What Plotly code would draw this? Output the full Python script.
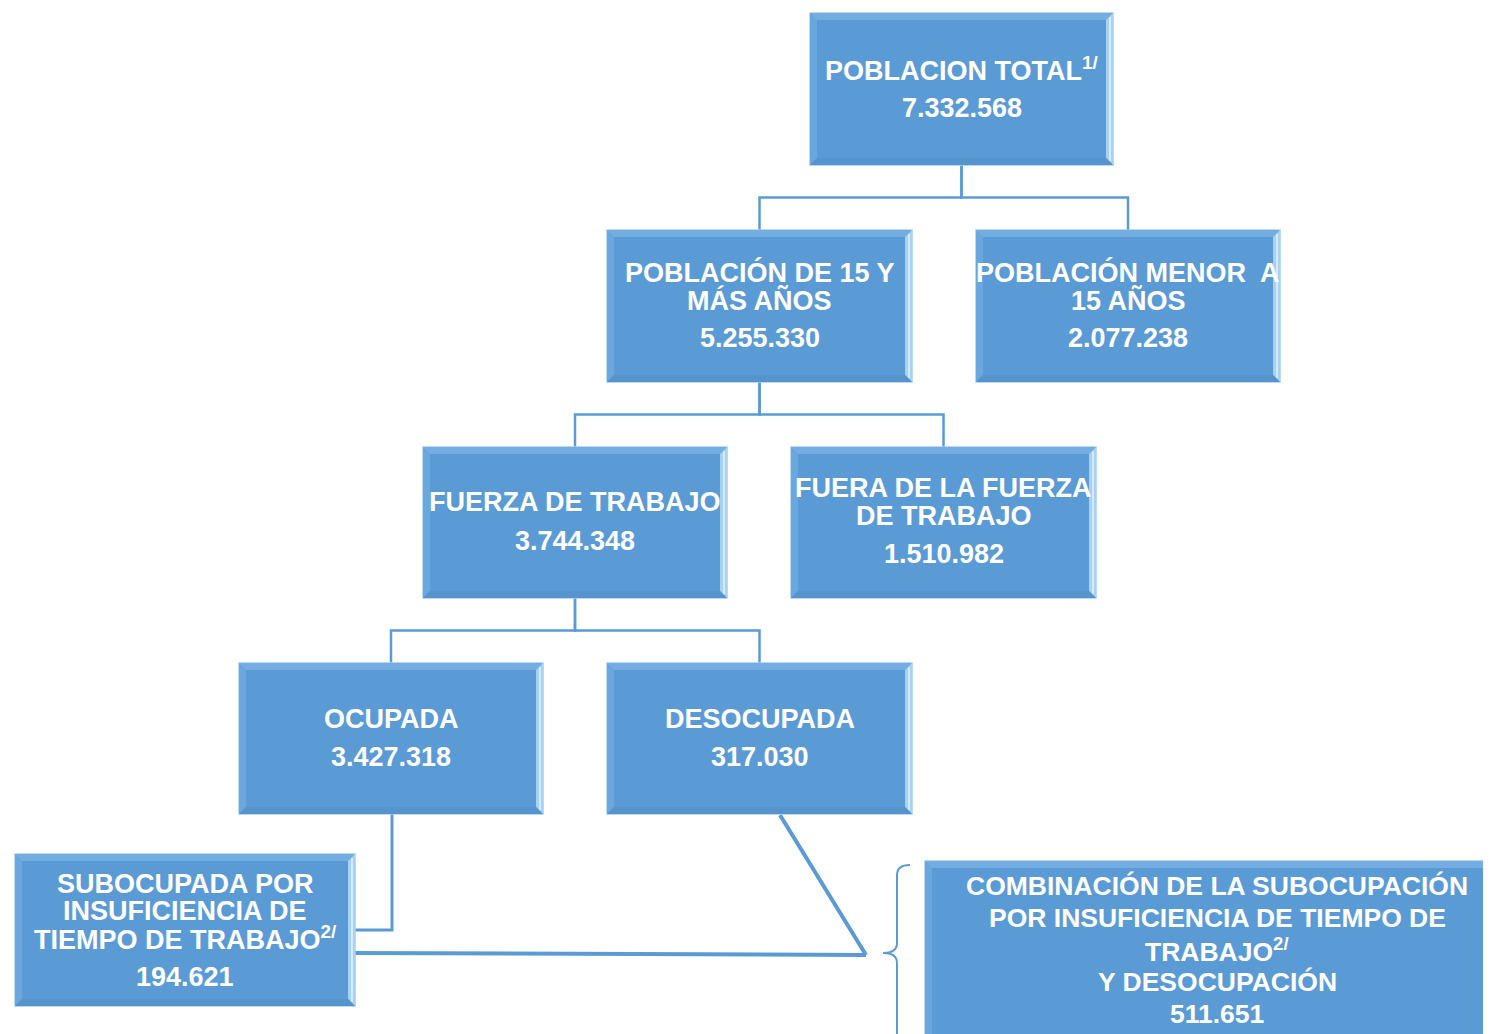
import plotly.graph_objects as go

# ---- data ----
node_ids = ["total", "mas15", "menor15", "ft", "fuera", "ocupada", "desocupada", "subocupada", "combinacion"]
node_labels = [
    ["POBLACION TOTAL<sup>1/</sup>"],
    ["POBLACIÓN DE 15 Y", "MÁS AÑOS"],
    ["POBLACIÓN MENOR  A", "15 AÑOS"],
    ["FUERZA DE TRABAJO"],
    ["FUERA DE LA FUERZA", "DE TRABAJO"],
    ["OCUPADA"],
    ["DESOCUPADA"],
    ["SUBOCUPADA POR", "INSUFICIENCIA DE", "TIEMPO DE TRABAJO<sup>2/</sup>"],
    ["COMBINACIÓN DE LA SUBOCUPACIÓN", "POR INSUFICIENCIA DE TIEMPO DE", "TRABAJO<sup>2/</sup>", "Y DESOCUPACIÓN"],
]
node_values = [7332568, 5255330, 2077238, 3744348, 1510982, 3427318, 317030, 194621, 511651]
tree_edges = [("total", "mas15"), ("total", "menor15"), ("mas15", "ft"), ("mas15", "fuera"),
              ("ft", "ocupada"), ("ft", "desocupada")]

# ---- layout geometry (pixels) ----
W, H = 1491, 1034
PAD = 8  # default page body margin
boxes = {
    "total": (810, 13, 1113, 165),
    "mas15": (607, 230, 912, 382),
    "menor15": (976, 230, 1280, 382),
    "ft": (423, 447, 727, 598),
    "fuera": (791, 447, 1096, 598),
    "ocupada": (239, 663, 543, 814),
    "desocupada": (607, 663, 912, 814),
    "subocupada": (15, 854, 355, 1006),
    "combinacion": (925, 861, 1500, 1045),
}
line_ys = {
    "total": [69, 108],
    "mas15": [272, 300, 338],
    "menor15": [272, 300, 338],
    "ft": [502, 541],
    "fuera": [488, 516, 554],
    "ocupada": [719, 757],
    "desocupada": [719, 757],
    "subocupada": [884, 911, 938, 977],
    "combinacion": [886, 918, 950, 982, 1014],
}
text_cx = {"combinacion": 1217}

FILL = "#5B9BD5"
LINE = "#5B9BD5"

fig = go.Figure()
shapes = []
annotations = []


def fmt(v):
    return f"{v:,}".replace(",", ".")


def add_box(x0, y0, x1, y1):
    b = 7
    shapes.append(dict(type="rect", x0=x0, y0=y0, x1=x1, y1=y1, fillcolor=FILL,
                       line=dict(color="#a8cdee", width=1.5), layer="above"))
    shapes.append(dict(type="path", path=f"M{x0},{y0} L{x1},{y0} L{x1-b},{y0+b} L{x0+b},{y0+b} Z",
                       fillcolor="#74ade2", line=dict(width=0), layer="above"))
    shapes.append(dict(type="path", path=f"M{x0},{y0} L{x0+b},{y0+b} L{x0+b},{y1-b} L{x0},{y1} Z",
                       fillcolor="#6aa7de", line=dict(width=0), layer="above"))
    shapes.append(dict(type="path", path=f"M{x1},{y0} L{x1},{y1} L{x1-b},{y1-b} L{x1-b},{y0+b} Z",
                       fillcolor="#a6d2f5", line=dict(width=0), layer="above"))
    shapes.append(dict(type="path", path=f"M{x0},{y1} L{x1},{y1} L{x1-b},{y1-b} L{x0+b},{y1-b} Z",
                       fillcolor="#5694cd", line=dict(width=0), layer="above"))
    shapes.append(dict(type="line", x0=x1 - 3, y0=y0 + 4, x1=x1 - 3, y1=y1 - 4,
                       line=dict(color="#e4f3ff", width=1.5), layer="above"))


for parent, child in tree_edges:
    px0, py0, px1, py1 = boxes[parent]
    cx0, cy0, cx1, cy1 = boxes[child]
    pcx = (px0 + px1) / 2
    ccx = (cx0 + cx1) / 2
    my = (py1 + cy0) / 2
    shapes.append(dict(type="path", path=f"M{pcx},{py1} L{pcx},{my} L{ccx},{my} L{ccx},{cy0}",
                       line=dict(color=LINE, width=2.5), layer="below"))

shapes.append(dict(type="path", path="M392,814 L392,930 L355,930",
                   line=dict(color=LINE, width=3), layer="below"))
shapes.append(dict(type="path", path="M350,953 L866,955",
                   line=dict(color=LINE, width=4), layer="below"))
shapes.append(dict(type="path", path="M780,815 L866,955",
                   line=dict(color=LINE, width=4), layer="below"))
shapes.append(dict(type="path",
                   path="M910,865 Q897,865 897,875 L897,943 Q897,953 883,953 Q897,953 897,963 L897,1040",
                   line=dict(color=LINE, width=2), layer="below"))

for nid, lab, val in zip(node_ids, node_labels, node_values):
    x0, y0, x1, y1 = boxes[nid]
    add_box(x0, y0, x1, y1)
    cx = text_cx.get(nid, (x0 + x1) / 2)
    ys = line_ys[nid]
    texts = lab + [fmt(val)]
    narrow = nid == "combinacion"
    for t, y in zip(texts, ys):
        annotations.append(dict(
            x=cx, y=y, xref="x", yref="y", text=t, showarrow=False,
            xanchor="center", yanchor="middle",
            font=dict(family="Liberation Sans, Arial",
                      size=26.5 if narrow else 27, color="white", weight="bold"),
        ))

fig.update_layout(
    width=W - PAD, height=H - PAD,
    margin=dict(l=0, r=0, t=0, b=0),
    paper_bgcolor="white", plot_bgcolor="white",
    xaxis=dict(range=[PAD, W], visible=False, fixedrange=True),
    yaxis=dict(range=[H, PAD], visible=False, fixedrange=True),
    shapes=shapes, annotations=annotations, showlegend=False,
)
fig.write_html("out.html")
